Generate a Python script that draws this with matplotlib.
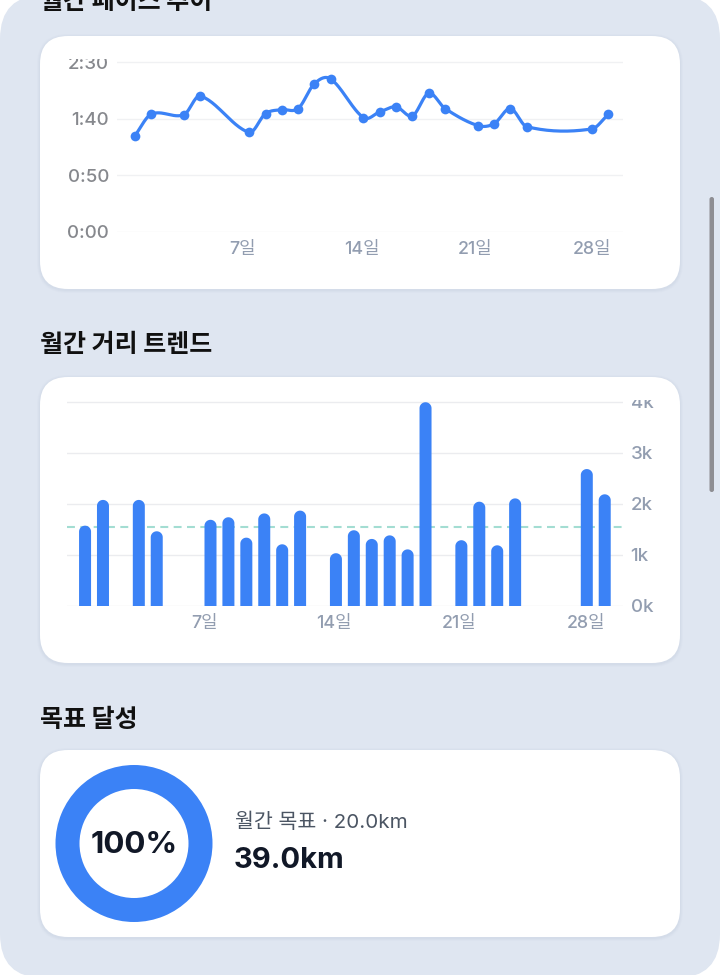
import matplotlib
matplotlib.use("Agg")
import matplotlib.pyplot as plt
import numpy as np
from matplotlib.patches import FancyBboxPatch, PathPatch
from matplotlib.path import Path
from matplotlib.transforms import Bbox, TransformedBbox

plt.rcParams["font.family"] = ["Inter", "Noto Sans CJK KR", "DejaVu Sans"]

# ---- data ----
run_days = [1, 2, 4, 5, 8, 9, 10, 11, 12, 13, 15, 16, 17, 18, 19, 20, 22, 23, 24, 25, 29, 30]
pace_sec = [85, 104, 103.5, 120, 88, 104.5, 108, 109, 131, 135, 101, 106,
            110.5, 102.5, 122.5, 109, 94, 95.5, 109, 93, 91, 104]
dist_m = [1575, 2080, 2080, 1465, 1690, 1740, 1340, 1815, 1210, 1870, 1035,
          1485, 1315, 1385, 1110, 3995, 1290, 2045, 1190, 2110, 2685, 2190]
avg_dist_m = 1550
label_days = [7, 14, 21, 28]
pace_ticks = [0, 50, 100, 150]
dist_ticks = [0, 1000, 2000, 3000, 4000]
goal_km = 20.0
total_km = 39.0

W, H = 720, 975
BLUE = "#3b82f6"
PANEL = "#dfe6f1"
KR = ["Noto Sans CJK KR", "DejaVu Sans"]


def rect(l, t, r, b):
    return [l / W, 1 - b / H, (r - l) / W, (b - t) / H]


def rounded(ax, x, y, w, h, r, color, z=1, alpha=1.0):
    p = FancyBboxPatch((x, y), w, h, boxstyle=f"round,pad=0,rounding_size={r}",
                       facecolor=color, edgecolor="none", zorder=z, alpha=alpha)
    ax.add_patch(p)
    return p


def smooth(xs, ys, steps=30):
    # catmull-rom style hermite curve through the points
    xs = np.asarray(xs, float)
    ys = np.asarray(ys, float)
    m = np.empty_like(ys)
    m[0] = (ys[1] - ys[0]) / (xs[1] - xs[0])
    m[-1] = (ys[-1] - ys[-2]) / (xs[-1] - xs[-2])
    m[1:-1] = (ys[2:] - ys[:-2]) / (xs[2:] - xs[:-2])
    px, py = [], []
    t = np.linspace(0, 1, steps)
    h00 = 2 * t**3 - 3 * t**2 + 1
    h10 = t**3 - 2 * t**2 + t
    h01 = -2 * t**3 + 3 * t**2
    h11 = t**3 - t**2
    for i in range(len(xs) - 1):
        h = xs[i + 1] - xs[i]
        px.append(xs[i] + t * h)
        py.append(h00 * ys[i] + h10 * h * m[i] + h01 * ys[i + 1] + h11 * h * m[i + 1])
    return np.concatenate(px), np.concatenate(py)


def top_round_bar(x, v, w, aspect):
    rx = w / 2
    ry = rx * aspect
    th = np.linspace(np.pi, 0, 24)
    verts = [(x - rx, 0), (x - rx, v - ry)]
    verts += list(zip(x + rx * np.cos(th), v - ry + ry * np.sin(th)))
    verts += [(x + rx, 0), (x - rx, 0)]
    codes = [Path.MOVETO] + [Path.LINETO] * (len(verts) - 2) + [Path.CLOSEPOLY]
    return Path(verts, codes)


def mmss(v):
    v = int(round(v))
    return f"{v // 60}:{v % 60:02d}"


def clip_labels(ax, labels):
    box = TransformedBbox(Bbox.from_extents(-0.5, -1.0, 1.5, 1.0), ax.transAxes)
    for lab in labels:
        lab.set_clip_box(box)
        lab.set_clip_on(True)


fig = plt.figure(figsize=(W / 100, H / 100), dpi=100)
fig.patch.set_facecolor("white")

bg = fig.add_axes([0, 0, 1, 1], zorder=0)
bg.set_xlim(0, W)
bg.set_ylim(H, 0)
bg.axis("off")

rounded(bg, 0, -5, 720, 983, 44, PANEL, z=0)
cards = [(40, 36, 680, 289), (40, 377, 680, 663), (40, 750, 680, 937)]
for (l, t, r, b) in cards:
    for k, a in [(3, 0.12), (2, 0.18), (1, 0.25)]:
        rounded(bg, l - k, t - k + 1, r - l + 2 * k, b - t + 2 * k, 28 + k, "#c9d3e2", z=1, alpha=a)
    rounded(bg, l, t, r - l, b - t, 28, "white", z=2)

# scrollbar
rounded(bg, 709.5, 197, 4.5, 295, 2.2, "#8e8e93", z=3)

title_kw = dict(fontsize=18, fontweight="bold", color="#111111", family=KR,
                va="center", ha="left", zorder=4)
bg.text(40, 2, "월간 페이스 추이", **title_kw)
bg.text(40, 345, "월간 거리 트렌드", **title_kw)
bg.text(40, 720, "목표 달성", **title_kw)

# ---- pace line chart ----
ax1 = fig.add_axes(rect(117.3, 59, 623.3, 232), zorder=5)
ax1.set_facecolor("none")
ax1.set_xlim(-0.08, 30.92)
ax1.set_ylim(0, 152.7)
cx, cy = smooth(run_days, pace_sec)
ax1.plot(cx, cy, color=BLUE, lw=2.3, solid_capstyle="round", zorder=3, clip_on=False)
ax1.plot(run_days, pace_sec, "o", color=BLUE, ms=7, mec="none", zorder=4, clip_on=False)
ax1.set_yticks(pace_ticks, [mmss(v) for v in pace_ticks])
ax1.set_xticks([d - 0.2 for d in label_days], [f"{d}일" for d in label_days])
ax1.grid(axis="y", color="#f0f1f3", lw=1)
ax1.set_axisbelow(True)
for s in ax1.spines.values():
    s.set_visible(False)
ax1.tick_params(axis="y", length=0, pad=6.0, labelsize=13.5, labelcolor="#86888d")
ax1.tick_params(axis="x", length=0, pad=6.5, labelsize=12.8, labelcolor="#929db0")
for lab in ax1.get_xticklabels() + ax1.get_yticklabels():
    lab.set_fontweight("medium")
for lab in ax1.get_xticklabels():
    lab.set_ha("left")
clip_labels(ax1, ax1.get_yticklabels())

# ---- distance bar chart ----
ax2 = fig.add_axes(rect(66.6, 400, 623, 606), zorder=5)
ax2.set_facecolor("none")
xl, yl = (-0.03, 31.02), (0, 4039)
ax2.set_xlim(*xl)
ax2.set_ylim(*yl)
bw = 0.67
aspect = ((yl[1] - yl[0]) / 206.0) / ((xl[1] - xl[0]) / 556.4)
for d, v in zip(run_days, dist_m):
    ax2.add_patch(PathPatch(top_round_bar(d, v, bw, aspect), facecolor=BLUE,
                            edgecolor="none", zorder=3))
ax2.axhline(avg_dist_m, color="#a3ddd2", lw=1.5, ls=(0, (3.8, 2.6)), zorder=2)
ax2.yaxis.tick_right()
ax2.set_yticks(dist_ticks, [f"{v // 1000}k" for v in dist_ticks])
ax2.set_xticks([d - 0.1 for d in label_days], [f"{d}일" for d in label_days])
ax2.grid(axis="y", color="#ebecef", lw=1)
ax2.set_axisbelow(True)
for s in ax2.spines.values():
    s.set_visible(False)
ax2.tick_params(axis="y", length=0, pad=5.5, labelsize=13.5, labelcolor="#929db0")
ax2.tick_params(axis="x", length=0, pad=6.5, labelsize=12.8, labelcolor="#929db0")
for lab in ax2.get_xticklabels() + ax2.get_yticklabels():
    lab.set_fontweight("medium")
for lab in ax2.get_xticklabels():
    lab.set_ha("left")
clip_labels(ax2, ax2.get_yticklabels())

# ---- goal donut ----
pct = min(total_km / goal_km, 1.0) * 100
ax3 = fig.add_axes(rect(55, 765, 213, 922), zorder=5)
ax3.pie([pct, 100 - pct], colors=[BLUE, "#e5e7eb"], startangle=90, counterclock=False,
        radius=1.0, wedgeprops=dict(width=24 / 78.5, edgecolor="none"))
ax3.set_xlim(-1, 1)
ax3.set_ylim(-1, 1)
ax3.set_aspect("equal")
ax3.text(0, -0.02, f"{pct:.0f}%", ha="center", va="center", fontsize=22.5,
         fontweight="bold", color="#111827")

bg.text(235, 822, f"월간 목표 · {goal_km:.1f}km", fontsize=14.8, color="#4b5563",
        va="center", ha="left", zorder=6)
bg.text(234, 860, f"{total_km:.1f}km", fontsize=21, fontweight="bold", color="#111827",
        va="center", ha="left", zorder=6)

fig.savefig("out.png", dpi=100, facecolor=fig.get_facecolor())
